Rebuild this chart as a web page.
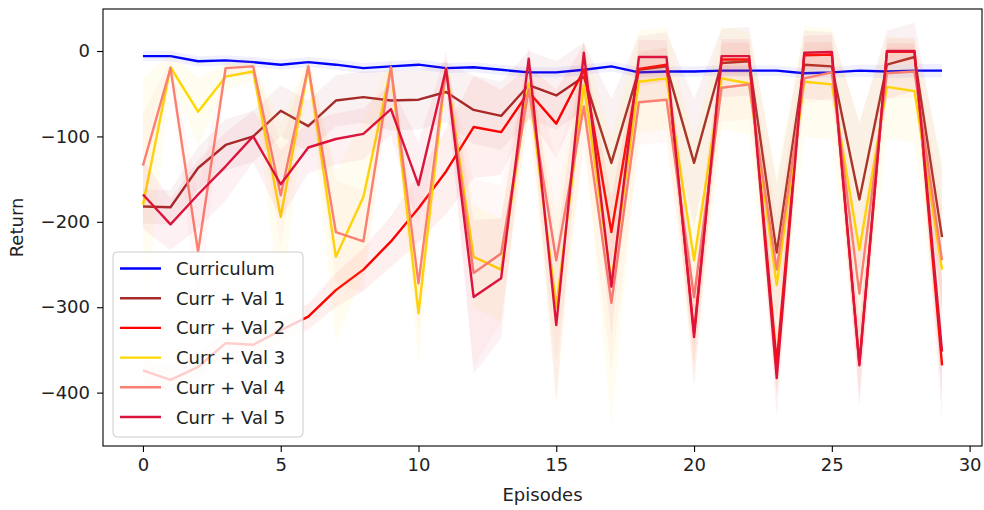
<!DOCTYPE html>
<html>
<head>
<meta charset="utf-8">
<script src="https://cdn.jsdelivr.net/npm/d3@7"></script>
<style>
  body { margin: 0; background: #fff; }
  text { font-family: 'DejaVu Sans', sans-serif; fill: #222; }
</style>
</head>
<body>
<div id="chart-1"></div>
<script>
// episodes on the x axis
const episodes = [0, 1, 2, 3, 4, 5, 6, 7, 8, 9, 10, 11, 12, 13, 14, 15, 16, 17, 18, 19, 20, 21, 22, 23, 24, 25, 26, 27, 28, 29]

// mean return per series
const curriculum = [-6, -6, -12, -11, -13, -16, -13, -16, -20, -18, -16, -20, -19, -22, -25, -25, -22, -18, -25, -24, -24, -23, -23, -23, -26, -25, -23, -24, -23, -23]
const currVal1 = [-182, -183, -137, -110, -100, -70, -88, -58, -54, -58, -57, -48, -69, -76, -40, -52, -30, -131, -22, -18, -131, -14, -12, -236, -16, -18, -174, -16, -7, -218]
const currVal2 = [-374, -385, -370, -342, -344, -327, -311, -280, -256, -223, -184, -141, -89, -95, -48, -85, -22, -212, -21, -16, -330, -10, -10, -365, -5, -4, -366, -1, -1, -368]
const currVal3 = [-180, -19, -71, -30, -24, -194, -19, -241, -171, -20, -307, -20, -241, -256, -38, -300, -40, -270, -36, -32, -245, -32, -38, -274, -36, -39, -233, -42, -47, -256]
const currVal4 = [-134, -20, -235, -20, -18, -169, -18, -212, -223, -19, -272, -20, -260, -237, -45, -245, -65, -295, -60, -57, -288, -43, -39, -256, -32, -25, -284, -26, -24, -245]
const currVal5 = [-168, -203, -168, -135, -100, -156, -113, -103, -97, -68, -157, -21, -288, -266, -9, -321, -2, -276, -7, -7, -335, -6, -6, -383, -2, -1, -368, 0, 0, -352]

// std per series (shaded band = mean +/- std)
const curriculumStd = [6, 6, 6, 6, 6, 6, 6, 6, 6, 6, 6, 6, 6, 6, 6, 6, 6, 6, 6, 6, 6, 6, 6, 6, 6, 6, 7, 8, 8, 8]
const currVal1Std = [20, 20, 25, 30, 30, 30, 30, 30, 30, 35, 35, 35, 40, 40, 40, 40, 40, 75, 40, 40, 75, 40, 40, 80, 40, 40, 90, 40, 40, 80]
const currVal2Std = [15, 15, 15, 15, 15, 15, 15, 20, 25, 30, 40, 50, 60, 50, 30, 40, 30, 40, 20, 20, 40, 20, 20, 40, 15, 15, 40, 10, 10, 40]
const currVal3Std = [150, 15, 40, 15, 12, 110, 12, 100, 90, 12, 60, 12, 60, 60, 30, 110, 50, 170, 60, 60, 140, 60, 60, 130, 65, 65, 150, 60, 60, 130]
const currVal4Std = [60, 10, 70, 10, 10, 60, 10, 60, 60, 10, 60, 10, 110, 80, 30, 120, 50, 80, 50, 50, 60, 40, 40, 60, 30, 30, 60, 30, 30, 60]
const currVal5Std = [40, 30, 40, 40, 30, 40, 30, 30, 30, 30, 50, 20, 90, 70, 15, 90, 15, 60, 20, 20, 60, 20, 20, 45, 20, 20, 50, 15, 15, 80]

const labels = ['Curriculum', 'Curr + Val 1', 'Curr + Val 2', 'Curr + Val 3', 'Curr + Val 4', 'Curr + Val 5']
const colors = ['#0000ff', '#a52a2a', '#ff0000', '#ffd700', '#fa8072', '#dc143c']
const xTicks = [0, 5, 10, 15, 20, 25, 30]
const yTicks = [0, -100, -200, -300, -400]

const series = [
  { name: labels[0], mean: curriculum, std: curriculumStd, color: colors[0] },
  { name: labels[1], mean: currVal1, std: currVal1Std, color: colors[1] },
  { name: labels[2], mean: currVal2, std: currVal2Std, color: colors[2] },
  { name: labels[3], mean: currVal3, std: currVal3Std, color: colors[3] },
  { name: labels[4], mean: currVal4, std: currVal4Std, color: colors[4] },
  { name: labels[5], mean: currVal5, std: currVal5Std, color: colors[5] }
]

const width = 984
const height = 510
const plot = { left: 103, right: 982, top: 9, bottom: 446 }

const svg = d3
  .select('#chart-1')
  .append('svg')
  .attr('width', width)
  .attr('height', height)

const xScale = d3
  .scaleLinear()
  .domain([-1.45, 30.45])
  .range([plot.left, plot.right])

const yScale = d3
  .scaleLinear()
  .domain([49.2, -462.5])
  .range([plot.top, plot.bottom])

svg
  .append('defs')
  .append('clipPath')
  .attr('id', 'clip')
  .append('rect')
  .attr('x', plot.left)
  .attr('y', plot.top)
  .attr('width', plot.right - plot.left)
  .attr('height', plot.bottom - plot.top)

const area = d3
  .area()
  .x(d => xScale(d.x))
  .y0(d => yScale(d.lo))
  .y1(d => yScale(d.hi))

const line = d3
  .line()
  .x(d => xScale(d.x))
  .y(d => yScale(d.y))

const plotG = svg.append('g').attr('clip-path', 'url(#clip)')

series.forEach(s => {
  const pts = episodes.map((x, i) => ({
    x: x,
    y: s.mean[i],
    lo: s.mean[i] - s.std[i],
    hi: s.mean[i] + s.std[i]
  }))

  plotG
    .append('path')
    .datum(pts)
    .attr('d', area)
    .attr('fill', s.color)
    .attr('fill-opacity', 0.06)
    .attr('stroke', 'none')

  plotG
    .append('path')
    .datum(pts)
    .attr('d', line)
    .attr('fill', 'none')
    .attr('stroke', s.color)
    .attr('stroke-width', 2.4)
    .attr('stroke-linejoin', 'round')
})

// axes
const xAxis = d3
  .axisBottom(xScale)
  .tickValues(xTicks)
  .tickSize(6)
  .tickPadding(6)

const yAxis = d3
  .axisLeft(yScale)
  .tickValues(yTicks)
  .tickSize(6)
  .tickPadding(7)
  .tickFormat(d => (d < 0 ? '\u2212' + Math.abs(d) : d))

const gx = svg
  .append('g')
  .attr('transform', 'translate(0,' + plot.bottom + ')')
  .call(xAxis)

const gy = svg
  .append('g')
  .attr('transform', 'translate(' + plot.left + ',0)')
  .call(yAxis)

;[gx, gy].forEach(g => {
  g.select('.domain').remove()
  g.selectAll('line').attr('stroke', '#000').attr('stroke-width', 1.1)
  g.selectAll('text')
    .attr('font-size', 18)
    .attr('font-family', 'DejaVu Sans')
    .attr('fill', '#222')
})

// frame
svg
  .append('rect')
  .attr('x', plot.left)
  .attr('y', plot.top)
  .attr('width', plot.right - plot.left)
  .attr('height', plot.bottom - plot.top)
  .attr('fill', 'none')
  .attr('stroke', '#000')
  .attr('stroke-width', 1.1)

svg
  .append('text')
  .attr('x', (plot.left + plot.right) / 2)
  .attr('y', 501)
  .attr('text-anchor', 'middle')
  .attr('font-size', 18)
  .text('Episodes')

svg
  .append('text')
  .attr('transform', 'translate(23,' + (plot.top + plot.bottom) / 2 + ') rotate(-90)')
  .attr('text-anchor', 'middle')
  .attr('font-size', 18)
  .text('Return')

// legend
const legend = svg.append('g').attr('transform', 'translate(113,252)')

legend
  .append('rect')
  .attr('x', 0)
  .attr('y', 0)
  .attr('width', 190)
  .attr('height', 185)
  .attr('rx', 4)
  .attr('fill', '#fff')
  .attr('fill-opacity', 0.8)
  .attr('stroke', '#ccc')
  .attr('stroke-width', 1)

const rows = legend
  .selectAll('.row')
  .data(series)
  .enter()
  .append('g')
  .attr('class', 'row')
  .attr('transform', (d, i) => 'translate(0,' + (16.5 + i * 29.7) + ')')

rows
  .append('line')
  .attr('x1', 7)
  .attr('x2', 48)
  .attr('y1', 0)
  .attr('y2', 0)
  .attr('stroke', d => d.color)
  .attr('stroke-width', 2.4)

rows
  .append('text')
  .attr('x', 63)
  .attr('y', 6.5)
  .attr('font-size', 18)
  .text(d => d.name)
</script>
</body>
</html>
